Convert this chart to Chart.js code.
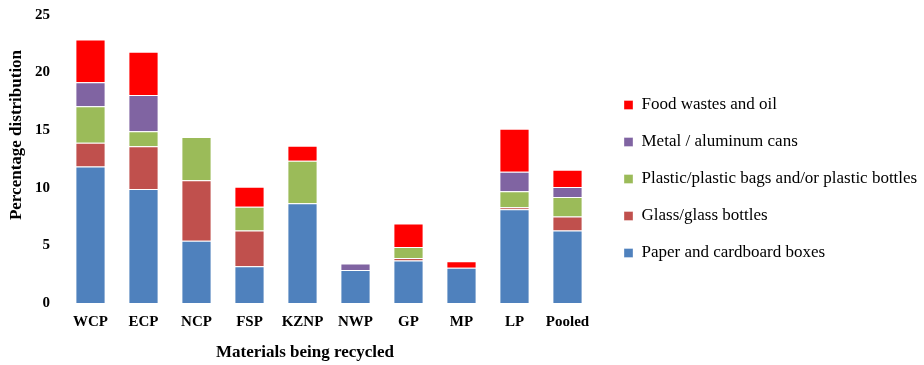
<!DOCTYPE html>
<html>
<head>
<meta charset="utf-8">
<script src="https://cdn.jsdelivr.net/npm/chart.js@4"></script>
<style>
  html, body { margin: 0; padding: 0; background: #fff; }
  #wrap { width: 924px; height: 365px; }
</style>
</head>
<body>
<div id="wrap"><canvas id="recycleChart" width="924" height="365"></canvas></div>
<script>
const regions = ["WCP", "ECP", "NCP", "FSP", "KZNP", "NWP", "GP", "MP", "LP", "Pooled"];

const paper   = [11.85, 9.9, 5.4, 3.2, 8.65, 2.87, 3.68, 3.07, 8.14, 6.29];
const glass   = [2.05, 3.7, 5.25, 3.1, 0, 0, 0.23, 0, 0.18, 1.21];
const plastic = [3.17, 1.3, 3.75, 2.05, 3.7, 0, 0.96, 0, 1.39, 1.7];
const metal   = [2.1, 3.15, 0, 0, 0, 0.55, 0, 0, 1.68, 0.87];
const food    = [3.7, 3.75, 0, 1.75, 1.3, 0, 2.03, 0.55, 3.74, 1.5];

const yTicks = [0, 5, 10, 15, 20, 25];

const serif = "'Liberation Serif', 'Times New Roman', serif";

function series(label, data, color) {
    return {
        label: label,
        data: data,
        backgroundColor: color,
        borderColor: "rgba(255,255,255,0.35)",
        borderWidth: 1,
        barPercentage: 0.57,
        categoryPercentage: 1.0
    };
}

// axis titles sit off-centre in the original, so draw them by hand
const axisTitles = {
    id: "axisTitles",
    afterDraw(chart) {
        const ctx = chart.ctx;
        ctx.save();
        ctx.fillStyle = "#000";
        ctx.font = "bold 17px " + serif;
        ctx.textAlign = "center";
        ctx.textBaseline = "middle";
        ctx.fillText("Materials being recycled", 305, 353);
        ctx.translate(17, 135);
        ctx.rotate(-Math.PI / 2);
        ctx.fillText("Percentage distribution", 0, 0);
        ctx.restore();
    }
};

const ctx = document.getElementById("recycleChart").getContext("2d");

new Chart(ctx, {
    type: "bar",
    data: {
        labels: regions,
        datasets: [
            series("Paper and cardboard boxes", paper, "#4F81BD"),
            series("Glass/glass bottles", glass, "#C0504D"),
            series("Plastic/plastic bags and/or plastic bottles", plastic, "#9BBB59"),
            series("Metal / aluminum cans", metal, "#8064A2"),
            series("Food wastes and oil", food, "#FF0000")
        ]
    },
    options: {
        responsive: false,
        animation: false,
        layout: {
            padding: { left: 0, right: 0, top: 4, bottom: 11 }
        },
        scales: {
            x: {
                stacked: true,
                grid: { display: false, drawTicks: false },
                border: { display: false },
                afterFit: s => { s.height = 51; },
                ticks: {
                    color: "#000",
                    padding: 10,
                    font: { family: serif, size: 15, weight: "bold" }
                }
            },
            y: {
                stacked: true,
                min: 0,
                max: 25,
                afterBuildTicks: axis => { axis.ticks = yTicks.map(v => ({ value: v })); },
                afterFit: s => { s.width = 64; s.paddingTop = 15; s.paddingBottom = 0; },
                grid: { display: false, drawTicks: false },
                border: { display: false },
                ticks: {
                    color: "#000",
                    padding: 14,
                    font: { family: serif, size: 15, weight: "bold" }
                }
            },
            // empty strip between plot and legend
            gap: {
                type: "linear",
                position: "right",
                grid: { display: false, drawTicks: false },
                border: { display: false },
                ticks: { display: false },
                afterFit: s => { s.width = 10; s.paddingTop = 0; s.paddingBottom = 0; }
            }
        },
        plugins: {
            legend: {
                position: "right",
                reverse: true,
                maxWidth: 320,
                labels: {
                    color: "#000",
                    boxWidth: 9,
                    boxHeight: 9,
                    padding: 20,
                    font: { family: serif, size: 17 }
                }
            },
            tooltip: { enabled: false }
        }
    },
    plugins: [axisTitles]
});
</script>
</body>
</html>
